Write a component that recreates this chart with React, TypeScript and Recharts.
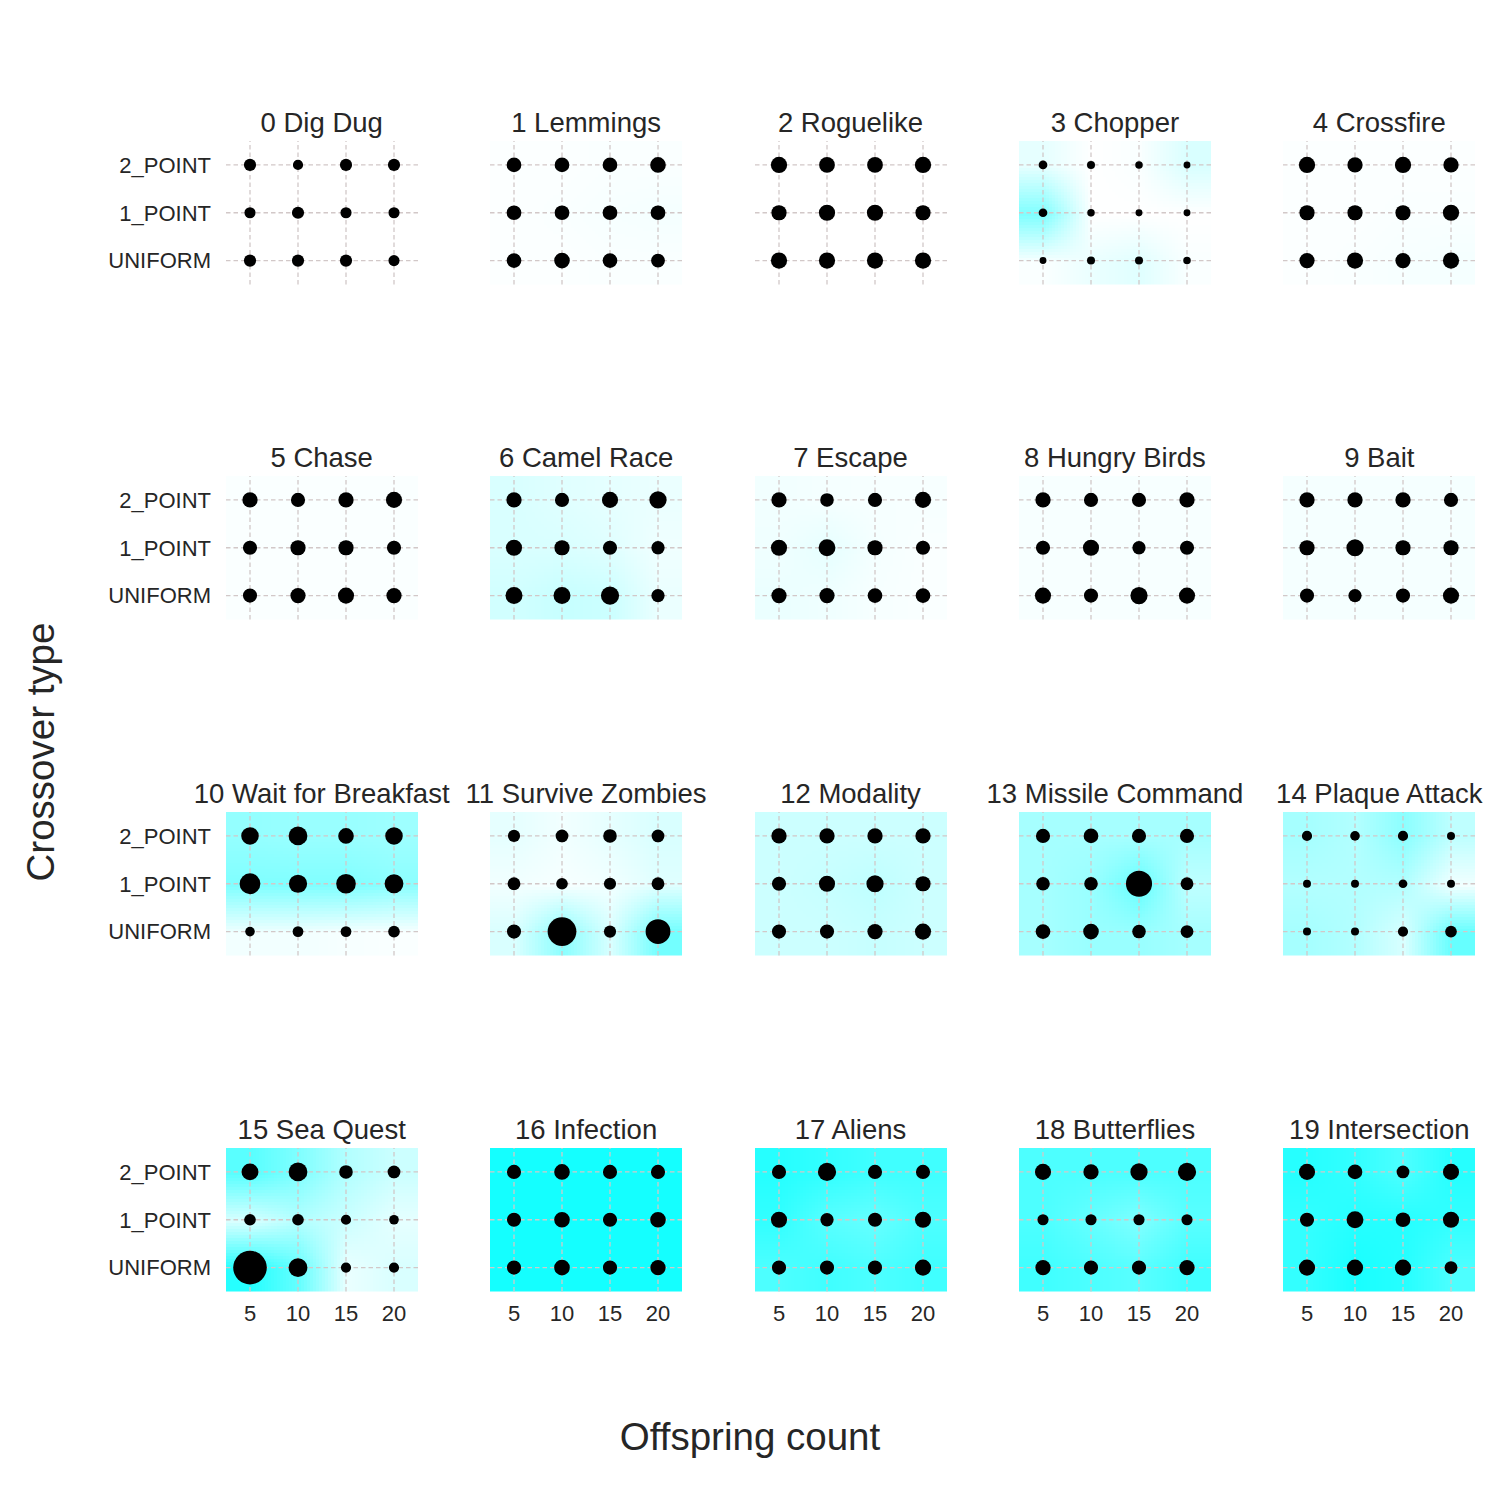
import React, { useMemo } from 'react';
import { ScatterChart, Scatter, XAxis, YAxis, ZAxis, ReferenceArea, ReferenceLine } from 'recharts';

const offspringCounts = [5, 10, 15, 20];
const crossoverTypes = ['UNIFORM', '1_POINT', '2_POINT'];
const gameNames = [
  '0 Dig Dug', '1 Lemmings', '2 Roguelike', '3 Chopper', '4 Crossfire',
  '5 Chase', '6 Camel Race', '7 Escape', '8 Hungry Birds', '9 Bait',
  '10 Wait for Breakfast', '11 Survive Zombies', '12 Modality', '13 Missile Command', '14 Plaque Attack',
  '15 Sea Quest', '16 Infection', '17 Aliens', '18 Butterflies', '19 Intersection',
];

// marker size values (area-proportional); order: UNIFORM 5..20, 1_POINT 5..20, 2_POINT 5..20
const sizeDigDug = [37, 37, 37, 31, 31, 37, 31, 31, 37, 26, 37, 37];
const sizeLemmings = [54, 61, 54, 48, 54, 54, 54, 54, 54, 54, 54, 61];
const sizeRoguelike = [66, 66, 66, 66, 58, 66, 66, 58, 66, 62, 62, 66];
const sizeChopper = [12, 16, 16, 14, 19, 14, 12, 12, 19, 16, 14, 12];
const sizeCrossfire = [58, 66, 58, 66, 58, 58, 58, 66, 66, 58, 66, 58];
const sizeChase = [50, 58, 65, 58, 50, 58, 58, 50, 58, 50, 58, 65];
const sizeCamelRace = [72, 72, 83, 44, 65, 58, 50, 44, 58, 50, 65, 74];
const sizeEscape = [58, 58, 54, 54, 65, 71, 58, 50, 58, 46, 50, 65];
const sizeHungryBirds = [65, 50, 74, 65, 50, 65, 44, 50, 58, 50, 50, 58];
const sizeBait = [50, 44, 50, 65, 58, 74, 58, 58, 58, 58, 58, 50];
const sizeWaitForBreakfast = [23, 29, 29, 34, 108, 83, 96, 88, 77, 88, 61, 77];
const sizeSurviveZombies = [50, 207, 37, 154, 41, 34, 37, 41, 37, 41, 46, 41];
const sizeModality = [50, 50, 58, 65, 50, 65, 74, 58, 58, 58, 58, 58];
const sizeMissileCommand = [54, 61, 46, 41, 46, 46, 171, 41, 50, 54, 50, 50];
const sizePlaqueAttack = [16, 16, 26, 34, 16, 16, 19, 16, 26, 23, 26, 16];
const sizeSeaQuest = [282, 88, 26, 26, 34, 34, 26, 23, 71, 88, 46, 41];
const sizeInfection = [50, 61, 50, 58, 50, 61, 50, 61, 50, 61, 50, 50];
const sizeAliens = [50, 50, 50, 65, 65, 44, 50, 65, 50, 83, 50, 50];
const sizeButterflies = [58, 50, 50, 58, 31, 31, 31, 31, 65, 58, 74, 83];
const sizeIntersection = [65, 65, 65, 41, 50, 71, 54, 65, 65, 54, 41, 65];

// background intensity (0 = white, 1 = cyan); same order
const heatDigDug = [0, 0, 0, 0, 0, 0, 0, 0, 0, 0, 0, 0];
const heatLemmings = [0.01, 0.01, 0.02, 0.02, 0.01, 0.02, 0.03, 0.04, 0.01, 0.01, 0.02, 0.02];
const heatRoguelike = [0, 0, 0, 0, 0, 0, 0, 0, 0, 0, 0, 0];
const heatChopper = [0.02, 0.08, 0.12, 0.02, 0.5, 0, 0, 0, 0.1, 0, 0.02, 0.15];
const heatCrossfire = [0.01, 0.02, 0.03, 0.04, 0.01, 0.01, 0.02, 0.02, 0.01, 0.01, 0.01, 0.01];
const heatChase = [0.02, 0.02, 0.02, 0.02, 0.02, 0.02, 0.02, 0.02, 0.02, 0.02, 0.02, 0.02];
const heatCamelRace = [0.18, 0.22, 0.2, 0.08, 0.15, 0.15, 0.12, 0.06, 0.15, 0.12, 0.1, 0.08];
const heatEscape = [0.08, 0.06, 0.03, 0.02, 0.06, 0.1, 0.04, 0.02, 0.05, 0.04, 0.03, 0.03];
const heatHungryBirds = [0.03, 0.03, 0.03, 0.03, 0.03, 0.03, 0.03, 0.03, 0.03, 0.03, 0.03, 0.03];
const heatBait = [0.04, 0.04, 0.04, 0.04, 0.04, 0.04, 0.04, 0.04, 0.04, 0.04, 0.04, 0.04];
const heatWaitForBreakfast = [0.05, 0.05, 0.03, 0.02, 0.5, 0.5, 0.5, 0.45, 0.42, 0.4, 0.4, 0.38];
const heatSurviveZombies = [0.15, 0.45, 0.15, 0.55, 0.05, 0.03, 0.05, 0.12, 0.1, 0.05, 0.1, 0.15];
const heatModality = [0.2, 0.2, 0.22, 0.2, 0.2, 0.22, 0.25, 0.2, 0.2, 0.2, 0.2, 0.2];
const heatMissileCommand = [0.35, 0.4, 0.4, 0.35, 0.35, 0.4, 0.6, 0.25, 0.35, 0.35, 0.35, 0.35];
const heatPlaqueAttack = [0.35, 0.3, 0.15, 0.6, 0.3, 0.3, 0.3, 0.05, 0.35, 0.3, 0.45, 0.25];
const heatSeaQuest = [0.85, 0.6, 0.08, 0.15, 0.15, 0.3, 0.2, 0.1, 0.65, 0.5, 0.3, 0.2];
const heatInfection = [0.92, 0.92, 0.92, 0.92, 0.92, 0.92, 0.92, 0.92, 0.92, 0.92, 0.92, 0.92];
const heatAliens = [0.7, 0.75, 0.7, 0.75, 0.8, 0.65, 0.6, 0.7, 0.85, 0.8, 0.75, 0.75];
const heatButterflies = [0.75, 0.7, 0.65, 0.75, 0.7, 0.6, 0.5, 0.65, 0.7, 0.7, 0.7, 0.7];
const heatIntersection = [0.8, 0.9, 0.85, 0.7, 0.8, 0.85, 0.85, 0.8, 0.85, 0.8, 0.7, 0.85];

const sizes = [
  sizeDigDug, sizeLemmings, sizeRoguelike, sizeChopper, sizeCrossfire,
  sizeChase, sizeCamelRace, sizeEscape, sizeHungryBirds, sizeBait,
  sizeWaitForBreakfast, sizeSurviveZombies, sizeModality, sizeMissileCommand, sizePlaqueAttack,
  sizeSeaQuest, sizeInfection, sizeAliens, sizeButterflies, sizeIntersection,
];
const heats = [
  heatDigDug, heatLemmings, heatRoguelike, heatChopper, heatCrossfire,
  heatChase, heatCamelRace, heatEscape, heatHungryBirds, heatBait,
  heatWaitForBreakfast, heatSurviveZombies, heatModality, heatMissileCommand, heatPlaqueAttack,
  heatSeaQuest, heatInfection, heatAliens, heatButterflies, heatIntersection,
];

const FONT = '"Liberation Sans", Arial, Helvetica, sans-serif';
const TEXT = '#262626';
const GRID = '#d2c8c8';
const PLOT_W = 192;
const PLOT_H = 143.5;
const COL0 = 225.7;
const COL_STEP = 264.4;
const ROW0 = 140.7;
const ROW_STEP = 335.7;
const TOP_M = 10;
const RIGHT_M = 25;

function heatUrl(heat: number[]): string {
  const c = document.createElement('canvas');
  c.width = offspringCounts.length;
  c.height = crossoverTypes.length;
  const ctx = c.getContext('2d');
  if (!ctx) return '';
  const img = ctx.createImageData(c.width, c.height);
  for (let i = 0; i < crossoverTypes.length; i++) {
    for (let j = 0; j < offspringCounts.length; j++) {
      const h = heat[i * offspringCounts.length + j];
      const p = ((crossoverTypes.length - 1 - i) * offspringCounts.length + j) * 4;
      img.data[p] = Math.round(255 * (1 - h));
      img.data[p + 1] = 255;
      img.data[p + 2] = 255;
      img.data[p + 3] = 255;
    }
  }
  ctx.putImageData(img, 0, 0);
  return c.toDataURL();
}

function Panel({ idx }: { idx: number }) {
  const col = idx % 5;
  const row = Math.floor(idx / 5);
  const isLeft = col === 0;
  const isBottom = row === 3;
  const yAxisW = isLeft ? 130 : 0;
  const xAxisH = isBottom ? 45 : 0;
  const plotLeft = COL0 + COL_STEP * col;
  const plotTop = ROW0 + ROW_STEP * row;
  const W = yAxisW + PLOT_W + RIGHT_M;
  const H = TOP_M + PLOT_H + xAxisH + 10;
  const size = sizes[idx];
  const url = useMemo(() => heatUrl(heats[idx]), [idx]);
  const data: { x: number; y: number; z: number }[] = [];
  crossoverTypes.forEach((_, i) => {
    offspringCounts.forEach((oc, j) => {
      data.push({ x: oc, y: i, z: size[i * offspringCounts.length + j] });
    });
  });
  return (
    <div style={{ position: 'absolute', left: plotLeft - yAxisW, top: plotTop - TOP_M, width: W, height: H }}>
      <ScatterChart width={W} height={H} margin={{ top: TOP_M, right: RIGHT_M, bottom: 10, left: 0 }}>
        <XAxis
          type="number"
          dataKey="x"
          domain={[2.5, 22.5]}
          allowDataOverflow
          ticks={offspringCounts}
          hide={!isBottom}
          height={xAxisH}
          tickLine={false}
          axisLine={false}
          tickMargin={8}
          tick={{ fill: TEXT, fontSize: 22, fontFamily: FONT }}
        />
        <YAxis
          type="number"
          dataKey="y"
          domain={[-0.5, 2.5]}
          allowDataOverflow
          ticks={[0, 1, 2]}
          tickFormatter={(v: number) => crossoverTypes[v]}
          hide={!isLeft}
          width={yAxisW}
          tickLine={false}
          axisLine={false}
          tickMargin={9}
          tick={{ fill: TEXT, fontSize: 22, fontFamily: FONT }}
        />
        <ZAxis type="number" dataKey="z" domain={[0, 300]} range={[0, 300 * Math.PI]} />
        <ReferenceArea
          x1={2.5}
          x2={22.5}
          y1={-0.5}
          y2={2.5}
          ifOverflow="visible"
          shape={(p: any) => (
            <image href={url} x={p.x} y={p.y} width={p.width} height={p.height} preserveAspectRatio="none" />
          )}
        />
        {offspringCounts.map((oc) => (
          <ReferenceLine key={'v' + oc} x={oc} stroke={GRID} strokeWidth={1.3} strokeDasharray="4.5 3" />
        ))}
        {crossoverTypes.map((_, i) => (
          <ReferenceLine key={'h' + i} y={i} stroke={GRID} strokeWidth={1.3} strokeDasharray="4.5 3" />
        ))}
        <Scatter data={data} fill="#000000" shape="circle" isAnimationActive={false} />
      </ScatterChart>
    </div>
  );
}

export default function App() {
  return (
    <div style={{ position: 'absolute', left: 0, top: 0, width: 1500, height: 1500, background: '#ffffff', fontFamily: FONT }}>
      {gameNames.map((_, idx) => (
        <Panel key={idx} idx={idx} />
      ))}
      <svg width={1500} height={1500} style={{ position: 'absolute', left: 0, top: 0, pointerEvents: 'none' }}>
        {gameNames.map((name, idx) => {
          const col = idx % 5;
          const row = Math.floor(idx / 5);
          return (
            <text
              key={name}
              x={COL0 + COL_STEP * col + PLOT_W / 2}
              y={ROW0 + ROW_STEP * row - 9}
              textAnchor="middle"
              fontSize={27.5}
              fontFamily={FONT}
              fill={TEXT}
            >
              {name}
            </text>
          );
        })}
        <text x={750} y={1450} textAnchor="middle" fontSize={38.5} fontFamily={FONT} fill={TEXT}>
          Offspring count
        </text>
        <text
          x={0}
          y={0}
          transform="translate(54 752) rotate(-90)"
          textAnchor="middle"
          fontSize={38.5}
          fontFamily={FONT}
          fill={TEXT}
        >
          Crossover type
        </text>
      </svg>
    </div>
  );
}
